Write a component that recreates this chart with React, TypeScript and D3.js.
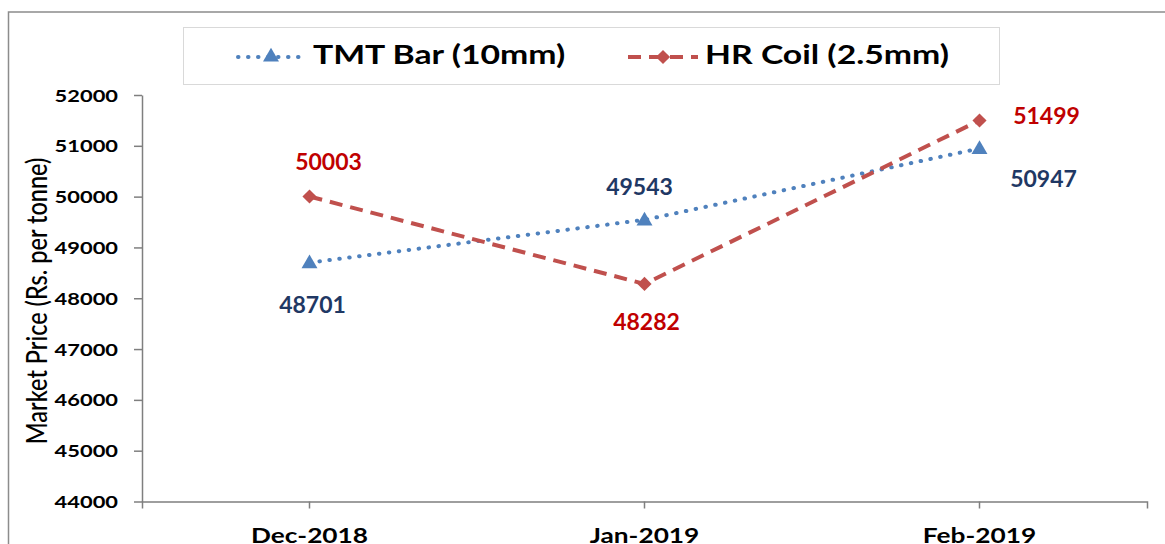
import { useEffect, useRef } from "react";
import * as d3 from "d3";

const months = ["Dec-2018", "Jan-2019", "Feb-2019"];
const tmtBar = [48701, 49543, 50947];
const hrCoil = [50003, 48282, 51499];
const yTicks = [44000, 45000, 46000, 47000, 48000, 49000, 50000, 51000, 52000];

// label offsets from each point (dx, baseline dy)
const tmtLabelOffset = [[3, 50], [-5, -25], [64, 38]];
const hrLabelOffset = [[19, -26], [2, 46], [67, 4]];

const FONT = "Lato, 'Open Sans', sans-serif";
const SX = 1.25;

export default function App() {
  const svgRef = useRef<SVGSVGElement>(null);
  const width = 1165;
  const height = 544;

  useEffect(() => {
    if (!svgRef.current) return;
    const svg = d3.select(svgRef.current);
    svg.selectAll("*").remove();

    svg.append("rect").attr("width", width).attr("height", height).attr("fill", "#fff");

    // outer frame
    svg.append("rect")
      .attr("x", 8.5).attr("y", 12)
      .attr("width", 1200).attr("height", 600)
      .attr("fill", "none")
      .attr("stroke", "#8c8c8c")
      .attr("stroke-width", 1.5);

    const x = d3.scaleBand<string>().domain(months).range([142, 1147]);
    const cx = (m: string) => x(m)! + x.bandwidth() / 2;
    const y = d3.scaleLinear().domain([44000, 52000]).range([501.5, 95]);

    // y axis
    const yAxis = svg.append("g")
      .attr("transform", "translate(142,0)")
      .call(d3.axisLeft(y).tickValues(yTicks).tickSize(8).tickSizeOuter(0).tickFormat(d3.format("d")));
    yAxis.select(".domain").attr("stroke", "#7f7f7f").attr("stroke-width", 1.5);
    yAxis.selectAll(".tick line").attr("stroke", "#7f7f7f").attr("stroke-width", 1.5);
    yAxis.selectAll(".tick text")
      .attr("x", null).attr("dy", null)
      .attr("transform", `translate(-24,6) scale(${SX},1)`)
      .attr("font-family", FONT)
      .attr("font-weight", "bold")
      .attr("font-size", 17.5)
      .attr("fill", "#000");

    // x axis
    const xAxis = svg.append("g")
      .attr("transform", "translate(0,501.5)")
      .call(d3.axisBottom(x).tickSize(7).tickSizeOuter(7));
    xAxis.select(".domain").attr("stroke", "#7f7f7f").attr("stroke-width", 1.5);
    xAxis.selectAll(".tick line").attr("stroke", "#7f7f7f").attr("stroke-width", 1.5);
    xAxis.selectAll(".tick text")
      .attr("y", null).attr("dy", null)
      .attr("transform", `translate(0,41) scale(${SX},1)`)
      .attr("font-family", FONT)
      .attr("font-weight", "bold")
      .attr("font-size", 21)
      .attr("fill", "#000");

    // y title
    svg.append("text")
      .attr("transform", `translate(46.5,301) scale(${SX},1) rotate(-90)`)
      .attr("text-anchor", "middle")
      .attr("font-family", FONT)
      .attr("font-weight", 500)
      .attr("font-size", 23.5)
      .attr("fill", "#000")
      .text("Market Price (Rs. per tonne)");

    const line = d3.line<number>()
      .x((_, i) => cx(months[i]))
      .y(d => y(d));

    // TMT Bar
    svg.append("path")
      .datum(tmtBar)
      .attr("fill", "none")
      .attr("stroke", "#4f81bd")
      .attr("stroke-width", 4)
      .attr("stroke-linecap", "round")
      .attr("stroke-dasharray", "0.5,9.5")
      .attr("d", line);

    // HR Coil
    svg.append("path")
      .datum(hrCoil)
      .attr("fill", "none")
      .attr("stroke", "#c0504d")
      .attr("stroke-width", 4)
      .attr("stroke-dasharray", "13,8")
      .attr("d", line);

    const tri = d3.symbol().type(d3.symbolTriangle).size(110)();
    const dia = d3.symbol().type(d3.symbolSquare).size(100)();

    svg.selectAll(".tmt-pt")
      .data(tmtBar)
      .join("path")
      .attr("d", tri)
      .attr("fill", "#4f81bd")
      .attr("transform", (d, i) => `translate(${cx(months[i])},${y(d) + 1})`);

    svg.selectAll(".hr-pt")
      .data(hrCoil)
      .join("path")
      .attr("d", dia)
      .attr("fill", "#c0504d")
      .attr("transform", (d, i) => `translate(${cx(months[i])},${y(d)}) rotate(45)`);

    const labels = (vals: number[], offs: number[][], color: string) => {
      svg.append("g")
        .selectAll("text")
        .data(vals)
        .join("text")
        .attr("x", (_, i) => cx(months[i]) + offs[i][0])
        .attr("y", (d, i) => y(d) + offs[i][1])
        .attr("text-anchor", "middle")
        .attr("font-family", FONT)
        .attr("font-weight", "bold")
        .attr("font-size", 23)
        .attr("fill", color)
        .text(d => d);
    };
    labels(tmtBar, tmtLabelOffset, "#1f3864");
    labels(hrCoil, hrLabelOffset, "#c00000");

    // legend
    const lg = svg.append("g");
    lg.append("rect")
      .attr("x", 183.5).attr("y", 27.5)
      .attr("width", 816).attr("height", 57)
      .attr("fill", "#fff")
      .attr("stroke", "#d9d9d9")
      .attr("stroke-width", 1);

    lg.append("line")
      .attr("x1", 238).attr("x2", 303).attr("y1", 57).attr("y2", 57)
      .attr("stroke", "#4f81bd").attr("stroke-width", 4)
      .attr("stroke-linecap", "round").attr("stroke-dasharray", "0.5,9.5");
    lg.append("path").attr("d", tri).attr("fill", "#4f81bd")
      .attr("transform", "translate(271,57)");
    lg.append("text")
      .attr("transform", `translate(313,64) scale(${SX},1)`)
      .attr("font-family", FONT).attr("font-weight", "bold").attr("font-size", 27)
      .attr("fill", "#000")
      .text("TMT Bar (10mm)");

    lg.append("line")
      .attr("x1", 628).attr("x2", 698).attr("y1", 57).attr("y2", 57)
      .attr("stroke", "#c0504d").attr("stroke-width", 4)
      .attr("stroke-dasharray", "13,8");
    lg.append("path").attr("d", dia).attr("fill", "#c0504d")
      .attr("transform", "translate(663,57) rotate(45)");
    lg.append("text")
      .attr("transform", `translate(705,64) scale(${SX},1)`)
      .attr("font-family", FONT).attr("font-weight", "bold").attr("font-size", 27)
      .attr("fill", "#000")
      .text("HR Coil (2.5mm)");
  }, []);

  return (
    <svg
      ref={svgRef}
      width={width}
      height={height}
      style={{ position: "absolute", left: 0, top: 0 }}
    />
  );
}
